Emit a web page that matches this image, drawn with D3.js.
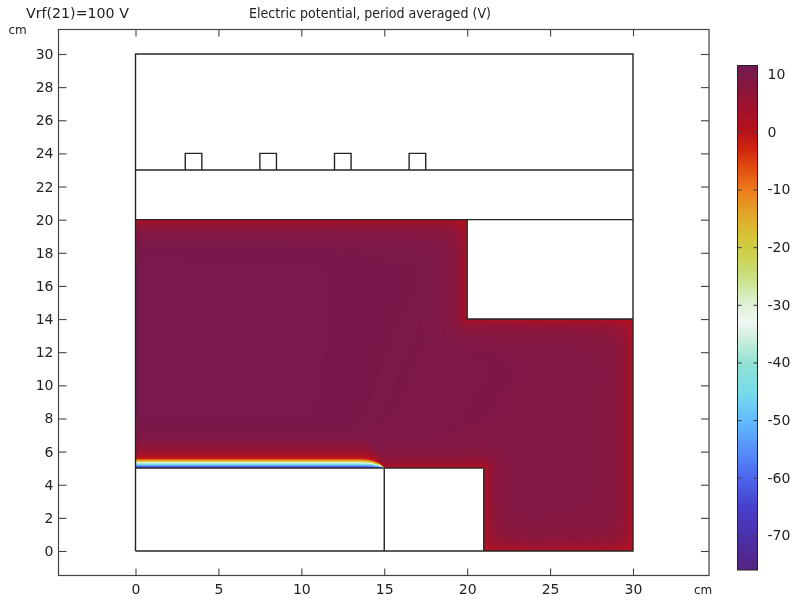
<!DOCTYPE html>
<html>
<head>
<meta charset="utf-8">
<script src="https://cdn.jsdelivr.net/npm/d3@7"></script>
<style>
  html, body { margin: 0; padding: 0; background: #fff; }
  #wrap { position: relative; width: 796px; height: 603px; overflow: hidden; }
  canvas, svg { position: absolute; left: 0; top: 0; }
  text { font-family: "DejaVu Sans", sans-serif; fill: #222; }
</style>
</head>
<body>
<div id="wrap">
  <canvas id="field" width="796" height="603"></canvas>
  <svg id="chart" width="796" height="603"></svg>
</div>
<script>
const xTicks = [0, 5, 10, 15, 20, 25, 30];
const yTicks = [0, 2, 4, 6, 8, 10, 12, 14, 16, 18, 20, 22, 24, 26, 28, 30];
const colorTicks = [10, 0, -10, -20, -30, -40, -50, -60, -70];
const colorRange = [-76, 11.5];

// colour table
const colorValues = [11.5, 8, 4, 0, -3, -6, -10, -14, -18, -22, -26, -30, -33, -36, -40, -45, -50, -55, -60, -65, -70, -76];
const colorHexes = ["#721a54", "#86163f", "#a0122c", "#b8121c", "#d0240f", "#e04a10", "#ec7a1a", "#e2a428", "#d6c234", "#cbd455", "#cbe390", "#e0f1d8", "#f0f7f2", "#cdeede", "#94e2d2", "#78dcea", "#62bcfb", "#5692fa", "#4c66ec", "#4840cc", "#4a30ac", "#552480"];

// plasma region outline (cm)
const plasmaX = [0, 15, 21, 21, 30, 30, 20, 20, 0];
const plasmaY = [5, 5, 5, 0, 0, 14, 14, 20, 20];

// walls that pull the potential down, x=0 is the symmetry axis so it is not here
// walls in the same group meet at an inner corner and count once
const wallX1 = [0, 20, 20, 30, 21, 21, 15];
const wallY1 = [20, 20, 14, 14, 0, 0, 5];
const wallX2 = [20, 20, 30, 30, 30, 21, 21];
const wallY2 = [20, 14, 14, 0, 0, 5, 5];
const wallGroup = [0, 1, 1, 2, 3, 4, 4];

// bulk potential on a coarse grid (V)
const bulkGridX = [0, 10, 20, 30];
const bulkGridY = [0, 5, 10, 15, 20];
const bulkRow0 = [9.6, 9.6, 8.9, 8.4];
const bulkRow5 = [10.2, 10.1, 9.1, 8.6];
const bulkRow10 = [10.4, 10.3, 9.3, 8.6];
const bulkRow15 = [10.4, 10.3, 9.6, 8.8];
const bulkRow20 = [10.2, 10.2, 9.8, 9];

// falloff near walls, fraction of bulk against distance (cm)
const wallDistance = [0, 0.1, 0.3, 0.6, 1, 1.5, 2, 3];
const wallFraction = [0.2, 0.32, 0.55, 0.75, 0.88, 0.95, 0.98, 1];

// sheath above the powered electrode, V against distance (cm)
const sheathDistance = [0, 0.03, 0.13, 0.25, 0.33, 0.4, 0.5, 0.57, 0.65, 0.8, 1, 1.3, 1.8, 2.5, 3.5];
const sheathPotential = [-76, -72, -55, -42, -32, -20, -10, -2, 0, 3, 5, 7, 9, 10, 10.3];

// sheath thickness along the electrode, shrinks to nothing at its end
const edgeX = [0, 13.6, 14, 14.3, 14.6, 14.8, 14.95, 15];
const edgeThickness = [1, 1, 0.95, 0.82, 0.62, 0.42, 0.15, 0.05];

const x = d3.scaleLinear().domain([0, 30]).range([135.5, 633]);
const y = d3.scaleLinear().domain([0, 30]).range([551, 54]);
const frame = { left: 58.5, right: 709, top: 29.5, bottom: 575.5 };
const bar = { left: 737.5, right: 757.5, top: 65.5, bottom: 570 };
const colorY = d3.scaleLinear().domain(colorRange).range([bar.bottom, bar.top]);
const color = d3.scaleLinear().domain(colorValues).range(colorHexes).clamp(true);

const wallProfile = d3.scaleLinear().domain(wallDistance).range(wallFraction).clamp(true);
const sheathProfile = d3.scaleLinear().domain(sheathDistance).range(sheathPotential).clamp(true);
const edgeProfile = d3.scaleLinear().domain(edgeX).range(edgeThickness).clamp(true);

const bulkRows = [bulkRow0, bulkRow5, bulkRow10, bulkRow15, bulkRow20];
const bulkColumn = bulkGridX.map((_, i) => d3.scaleLinear().domain(bulkGridY).range(bulkRows.map(r => r[i])));

function bulk(px, py) {
    const s = d3.scaleLinear().domain(bulkGridX).range(bulkColumn.map(c => c(py)));
    return s(px);
}

function segDistance(px, py, i) {
    const dx = wallX2[i] - wallX1[i], dy = wallY2[i] - wallY1[i];
    let t = ((px - wallX1[i]) * dx + (py - wallY1[i]) * dy) / (dx * dx + dy * dy);
    t = Math.max(0, Math.min(1, t));
    return Math.hypot(px - wallX1[i] - t * dx, py - wallY1[i] - t * dy);
}

function potential(px, py) {
    let v = bulk(px, py);
    const nearest = new Map();
    wallX1.forEach((_, i) => {
        const d = segDistance(px, py, i);
        const g = wallGroup[i];
        if (!nearest.has(g) || d < nearest.get(g)) nearest.set(g, d);
    });
    nearest.forEach(d => { v *= wallProfile(d); });
    if (px <= 15) {
        v = Math.min(v, sheathProfile((py - 5) / edgeProfile(px)));
    }
    return v;
}

// field
const ctx = document.getElementById("field").getContext("2d");
const polygon = plasmaX.map((d, i) => [x(d), y(plasmaY[i])]);
const image = ctx.createImageData(796, 603);
for (let j = Math.floor(y(20)); j <= Math.ceil(y(0)); j++) {
    for (let i = Math.floor(x(0)); i <= Math.ceil(x(30)); i++) {
        if (!d3.polygonContains(polygon, [i + 0.5, j + 0.5])) continue;
        const c = d3.rgb(color(potential(x.invert(i + 0.5), y.invert(j + 0.5))));
        const k = (j * 796 + i) * 4;
        image.data[k] = c.r;
        image.data[k + 1] = c.g;
        image.data[k + 2] = c.b;
        image.data[k + 3] = 255;
    }
}
ctx.putImageData(image, 0, 0);

// colorbar, whole pixel rows so they do not blend with the white behind
for (let j = Math.floor(bar.top); j < Math.ceil(bar.bottom); j++) {
    ctx.fillStyle = color(colorY.invert(j + 0.5));
    ctx.fillRect(Math.floor(bar.left), j, Math.ceil(bar.right - bar.left), 1);
}

const svg = d3.select("#chart");
const lineColor = "#262626";

// geometry outlines
const wires = [
    [[0, 0], [0, 30], [30, 30], [30, 0], [0, 0]],
    [[0, 23], [30, 23]],
    [[0, 20], [30, 20]],
    [[20, 20], [20, 14], [30, 14]],
    [[0, 5], [21, 5]],
    [[21, 5], [21, 0]],
    [[15, 5], [15, 0]],
    [[3, 23], [3, 24], [4, 24], [4, 23]],
    [[7.5, 23], [7.5, 24], [8.5, 24], [8.5, 23]],
    [[12, 23], [12, 24], [13, 24], [13, 23]],
    [[16.5, 23], [16.5, 24], [17.5, 24], [17.5, 23]]
];
const line = d3.line().x(d => x(d[0])).y(d => y(d[1]));
svg.append("g").selectAll("path").data(wires).join("path")
    .attr("d", line)
    .attr("fill", "none")
    .attr("stroke", lineColor)
    .attr("stroke-width", 1.4);

// frame and axes
svg.append("rect")
    .attr("x", frame.left).attr("y", frame.top)
    .attr("width", frame.right - frame.left).attr("height", frame.bottom - frame.top)
    .attr("fill", "none").attr("stroke", "#444").attr("stroke-width", 1.2);

function styleAxis(g) {
    g.select(".domain").remove();
    g.selectAll(".tick line").attr("stroke", "#444").attr("stroke-width", 1.1);
    g.selectAll("text").attr("fill", "#222").style("font-size", "14px").style("font-family", '"DejaVu Sans", sans-serif');
}

svg.append("g").attr("transform", `translate(0,${frame.bottom})`)
    .call(d3.axisBottom(x).tickValues(xTicks).tickSize(-7).tickPadding(9).tickFormat(d => d))
    .call(styleAxis);
svg.append("g").attr("transform", `translate(0,${frame.top})`)
    .call(d3.axisTop(x).tickValues(xTicks).tickSize(-7).tickFormat(""))
    .call(styleAxis);
svg.append("g").attr("transform", `translate(${frame.left},0)`)
    .call(d3.axisLeft(y).tickValues(yTicks).tickSize(-8).tickPadding(5).tickFormat(d => d))
    .call(styleAxis);
svg.append("g").attr("transform", `translate(${frame.right},0)`)
    .call(d3.axisRight(y).tickValues(yTicks).tickSize(-8).tickFormat(""))
    .call(styleAxis);

// colorbar outline and ticks
svg.append("rect")
    .attr("x", bar.left).attr("y", bar.top)
    .attr("width", bar.right - bar.left).attr("height", bar.bottom - bar.top)
    .attr("fill", "none").attr("stroke", "#222").attr("stroke-width", 1);
svg.append("g").attr("transform", `translate(${bar.right},0)`)
    .call(d3.axisRight(colorY).tickValues(colorTicks).tickSize(-4).tickPadding(10).tickFormat(d => String(d)))
    .call(styleAxis);
svg.append("g").attr("transform", `translate(${bar.left},0)`)
    .call(d3.axisLeft(colorY).tickValues(colorTicks).tickSize(-4).tickFormat(""))
    .call(styleAxis);

// titles
svg.append("text").attr("x", 26).attr("y", 18).style("font-size", "14.2px").text("Vrf(21)=100 V");
svg.append("text").attr("x", 249).attr("y", 18).style("font-size", "13.4px")
    .attr("textLength", 242).attr("lengthAdjust", "spacingAndGlyphs")
    .text("Electric potential, period averaged (V)");
svg.append("text").attr("x", 8.5).attr("y", 34).style("font-size", "12px").text("cm");
svg.append("text").attr("x", 694).attr("y", 594).style("font-size", "12px").text("cm");
</script>
</body>
</html>
